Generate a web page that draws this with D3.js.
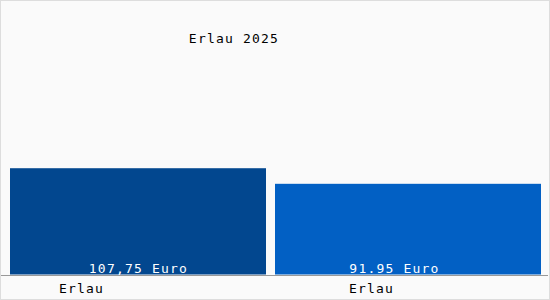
<!DOCTYPE html>
<html>
<head>
<meta charset="utf-8">
<script src="https://cdn.jsdelivr.net/npm/d3@7"></script>
<style>
  body { margin: 0; background: #fff; }
  text { font-family: "DejaVu Sans Mono", monospace; font-size: 13px; letter-spacing: 1.2px; }
</style>
</head>
<body>
<div id="chart"></div>
<script>
// data
var categories = ["Erlau", "Erlau"];
var values = [107.75, 91.95];
var valueLabels = ["107,75 Euro", "91.95 Euro"];
var barColors = ["#02478f", "#0260c4"];
var title = "Erlau 2025";

var w = 550;
var h = 300;
var plotRight = 541;

var svg = d3.select("#chart")
  .append("svg")
  .attr("width", w)
  .attr("height", h);

// background + frame
svg.append("rect")
  .attr("x", 0.5)
  .attr("y", 0.5)
  .attr("width", w - 1)
  .attr("height", h - 1)
  .attr("fill", "#fafafa")
  .attr("stroke", "#dddddd");

var xScale = d3.scaleBand()
  .domain(d3.range(values.length))
  .range([10, 531])
  .paddingInner(0.034);

var yScale = d3.scaleLinear()
  .domain([0, 110])
  .range([274.5, 166]);

// label positions
var valueX = d3.scaleLinear().domain([0, 1]).range([138.5, 394.5]);
var catX = d3.scaleLinear().domain([0, 1]).range([59, 349]);

// title
svg.append("text")
  .attr("x", 234)
  .attr("y", 43)
  .attr("text-anchor", "middle")
  .attr("fill", "#000")
  .text(title);

// bars (last one runs to the right edge of the plot)
svg.append("g")
  .selectAll("rect")
  .data(values)
  .enter()
  .append("rect")
  .attr("x", function(d, i) { return xScale(i); })
  .attr("y", function(d) { return yScale(d); })
  .attr("width", function(d, i) {
    return i === values.length - 1 ? plotRight - xScale(i) : xScale.bandwidth();
  })
  .attr("height", function(d) { return yScale(0) - yScale(d); })
  .attr("fill", function(d, i) { return barColors[i]; });

// value labels
svg.append("g")
  .selectAll("text")
  .data(valueLabels)
  .enter()
  .append("text")
  .attr("x", function(d, i) { return valueX(i); })
  .attr("y", 273)
  .attr("text-anchor", "middle")
  .attr("fill", "#fff")
  .text(function(d) { return d; });

// axis line
svg.append("line")
  .attr("x1", 1)
  .attr("x2", w - 2)
  .attr("y1", 275.5)
  .attr("y2", 275.5)
  .attr("stroke", "#999");

// category labels
svg.append("g")
  .selectAll("text")
  .data(categories)
  .enter()
  .append("text")
  .attr("x", function(d, i) { return catX(i); })
  .attr("y", 293)
  .attr("fill", "#000")
  .text(function(d) { return d; });
</script>
</body>
</html>
